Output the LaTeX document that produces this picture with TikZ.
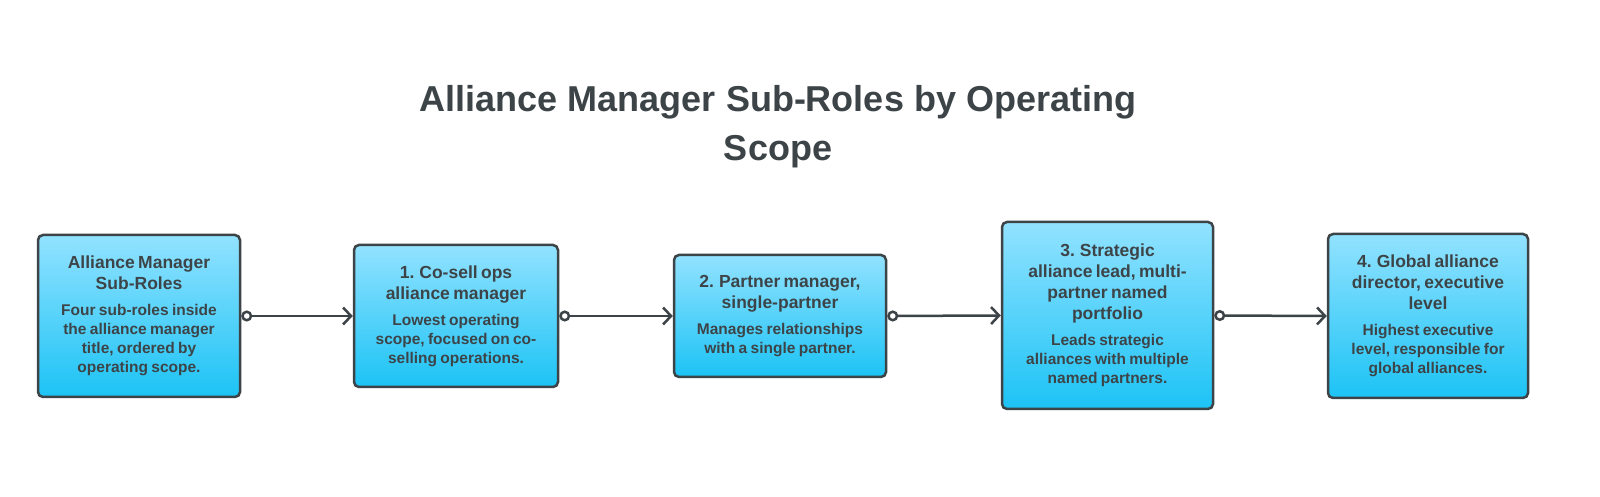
\documentclass[tikz,border=0pt]{standalone}
\usepackage{fontspec}
\setmainfont{Liberation Sans}
\usetikzlibrary{arrows.meta}
\definecolor{ink}{HTML}{3D4448}
\definecolor{topc}{HTML}{92E2FF}
\definecolor{botc}{HTML}{1CC3F5}
\begin{document}
\begin{tikzpicture}[x=1pt,y=1pt,
  box/.style={draw=ink,line width=2.5pt,rounded corners=5pt,top color=topc,bottom color=botc,
    inner sep=0pt,align=center,text=ink,font=\bfseries},
  conn/.style={draw=ink,line width=2.5pt,{Circle[open,fill=white,length=11pt,line width=2.5pt]}-{Straight Barb[length=8pt,width=17pt,line width=2.5pt]}}]
\fill[white] (0,0) rectangle (1600,497);
\node[text=ink,font=\fontsize{36}{49}\selectfont\bfseries,align=center] (t) at (778,370)
  {Alliance Manager Sub-Roles by Operating\\Scope};
\newcommand{\bx}[6]{%
 \node[box,minimum width=#3pt,minimum height=#4pt] (#1) at #2 {};
 \node[text=ink,align=center,text width=#3pt-6pt,font=\bfseries] at (#1.center)
  {{\fontsize{17.5}{21}\selectfont #5\par}\vspace{7pt}{\fontsize{15.5}{19}\selectfont #6\par}};}
\bx{b0}{(139,181)}{202}{162}{Alliance Manager\\Sub-Roles}{Four sub-roles inside\\the alliance manager\\title, ordered by\\operating scope.}
\bx{b1}{(456,181)}{204}{142}{1. Co-sell ops\\alliance manager}{Lowest operating\\scope, focused on co-\\selling operations.}
\bx{b2}{(780,181)}{212}{122}{2. Partner manager,\\single-partner}{Manages relationships\\with a single partner.}
\bx{b3}{(1107.5,181.5)}{211}{187}{3. Strategic\\alliance lead, multi-\\partner named\\portfolio}{Leads strategic\\alliances with multiple\\named partners.}
\bx{b4}{(1428,181)}{200}{164}{4. Global alliance\\director, executive\\level}{Highest executive\\level, responsible for\\global alliances.}
\draw[conn] (b0.east) -- (b1.west);
\draw[conn] (b1.east) -- (b2.west);
\draw[conn] (b2.east) -- (b3.west);
\draw[conn] (b3.east) -- (b4.west);
\pgfresetboundingbox
\useasboundingbox (0,0) rectangle (1600,497);
\end{tikzpicture}
\end{document}
